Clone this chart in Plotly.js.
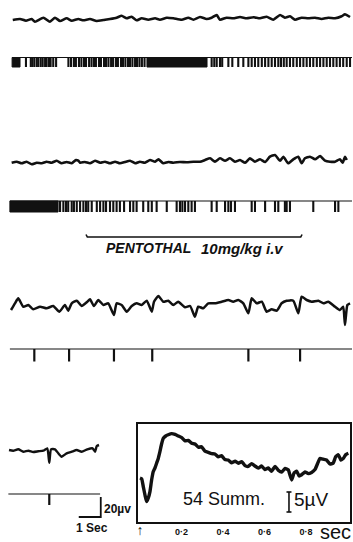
<!DOCTYPE html>
<html>
<head>
<meta charset="utf-8">
<script src="https://cdn.plot.ly/plotly-3.0.1.min.js"></script>
<style>html,body{margin:0;padding:0;background:#fff;}#chart{width:353px;height:542px;}</style>
</head>
<body>
<div id="chart"></div>
<script>
// ---------- DATA (time in s, potentials in µV) ----------
// Row 1: EEG before injection
const eeg1T = [0.58,0.91,1.18,1.44,1.59,1.97,2.27,2.50,2.73,3.03,3.26,3.56,3.79,4.09,4.39,4.70,5.00,5.30,5.53,5.76,5.98,6.21,6.44,6.74,7.05,7.27,7.58,7.88,8.26,8.56,8.79,9.09,9.39,9.62,9.85,10.00,10.30,10.60,10.91,11.21,11.52,11.82,12.12,12.42,12.73,12.95,13.18,13.41,13.71,14.01,14.32,14.62,14.92,15.23,15.53,15.68,15.91];
const eeg1V = [-2,-1,-2.7,-1,-3.7,0.3,-3.7,0.3,-3,-0.3,-2.7,-1,-2.3,-1,-3,-2,-1,0.3,2.3,-0.3,1.3,-2.3,-0.3,-1.7,-0.3,-1.7,0.3,-0.3,-1.7,0.3,-1.7,1,-1,0.3,3,-1.7,0.3,-0.3,1,-0.3,0.7,-0.3,1.3,-1.7,3,0.3,1.7,-1.7,0.3,-0.3,0.3,-1,0.3,-0.3,1.7,3.7,1];
// Row 2: unit discharges before injection
const spikes1 = [1.18,1.40,1.47,1.56,1.67,1.74,1.85,1.94,2.05,2.12,2.23,2.30,2.42,2.55,3.11,3.23,3.36,3.45,3.59,3.70,3.82,3.91,4.05,4.16,4.27,4.36,4.50,4.59,4.73,4.82,4.93,5.05,5.14,5.27,5.36,5.50,5.59,5.70,5.82,5.91,6.02,6.14,6.23,6.34,6.45,6.57,9.62,9.74,9.85,10.00,10.10,10.38,10.56,10.83,11.06,11.29,11.44,11.59,11.74,11.90,12.05,12.20,12.35,12.50,12.65,12.77,12.90,13.03,13.18,13.33,13.49,13.64,13.79,13.94,14.09,14.24,14.40,14.55,14.70,14.85,15.00,15.15,15.30,15.45,15.60,15.76,15.91];
const bursts1Start = [0.55, 6.68];
const bursts1End   = [0.91, 9.41];
// Row 3: EEG during injection
const eeg2T = [0.53,0.76,0.99,1.21,1.44,1.67,1.90,2.12,2.35,2.58,2.80,3.03,3.26,3.45,3.56,3.64,3.86,4.09,4.32,4.55,4.77,5.00,5.23,5.45,5.68,5.91,6.14,6.36,6.59,6.82,7.05,7.20,7.42,7.65,7.88,8.18,8.49,8.79,9.09,9.32,9.55,9.77,10.00,10.23,10.45,10.68,10.91,11.14,11.36,11.59,11.82,12.05,12.27,12.50,12.73,12.88,13.10,13.33,13.56,13.71,13.86,14.09,14.32,14.55,14.77,15.00,15.23,15.45,15.58,15.68,15.76];
const eeg2V = [-1.7,-0.7,-2.3,-0.7,-3.3,-1.7,-2.3,-0.7,-1.7,0.3,-2.3,-1,-2.3,1,0.3,-1.7,-1,-2.3,0.3,-1.7,-0.7,-2.3,-0.7,-2.3,-1,0.3,-2.3,-0.7,-1.7,1,-0.7,1.7,-2.3,-1,-1.7,-1,-1.3,-0.7,-0.7,1,2.7,-0.7,2.7,0.3,2.7,-0.7,1,-1.7,2.7,-0.7,1.7,-1,4.3,6,0.3,4.3,-2.3,1.7,4.3,-2.3,2.7,4.3,1.7,5,0.3,-0.7,-0.7,1.7,-1.7,4.3,1];
// Row 4: unit discharges during injection
const spikes2 = [2.73,2.88,3.00,3.10,3.26,3.36,3.49,3.64,3.79,3.91,4.01,4.17,4.40,4.55,4.70,4.82,5.00,5.15,5.30,5.45,5.64,5.91,6.06,6.21,6.51,6.74,6.90,7.12,7.58,8.03,8.18,8.29,8.41,8.56,8.71,8.86,9.62,9.85,10.23,10.38,10.50,10.68,11.44,11.59,12.05,12.50,12.65,12.95,13.03,13.18,14.24,15.23,15.38];
const bursts2Start = [0.45];
const bursts2End   = [2.64];
const pentothal = [3.91, 13.73];            // injection start / end (s)
// Row 5: EEG after injection
const eeg3T = [0.50,0.68,0.83,1.06,1.29,1.51,1.82,2.12,2.42,2.70,2.95,3.10,3.26,3.49,3.71,3.97,4.09,4.27,4.47,4.70,4.92,5.18,5.30,5.53,5.76,5.99,6.21,6.44,6.67,6.90,7.00,7.20,7.42,7.65,7.88,8.10,8.41,8.64,8.86,9.01,9.24,9.47,9.77,10.08,10.38,10.60,10.83,11.06,11.29,11.44,11.67,11.90,12.12,12.35,12.58,12.80,13.03,13.33,13.56,13.71,13.94,14.17,14.47,14.70,14.92,15.23,15.45,15.60,15.68,15.79,15.91];
const eeg3V = [-5,1.7,6.7,-1.7,0,-4.3,-1.7,-3.3,-1,-6.7,0,-5.7,1.7,4.3,-1,3.3,5.7,-1,5,0,1.7,-10,1.7,0,-6.7,-1,1.7,0,4.3,-6.7,3.3,9,3.3,4.3,0,3.3,-2.3,-1,-11.7,-1.7,-3.3,1.7,1.7,3.3,5,3.3,5,1.7,-8.3,6.7,1.7,3.3,-6.7,-4.3,-5.7,1.7,4.3,4.3,-8.3,8.3,5,3.3,4.3,1.7,3.3,-1.7,-5,-1.7,-20,0,1.7];
const spikes3 = [1.56, 3.14, 5.18, 6.92, 11.29, 13.64];
// Row 7: later EEG sample
const eeg4T = [0.41,0.60,0.83,1.06,1.29,1.51,1.74,1.97,2.15,2.24,2.32,2.50,2.65,2.80,3.03,3.26,3.49,3.71,3.97,4.21,4.32,4.40,4.50];
const eeg4V = [0,-0.7,0.7,-1.7,-0.7,-2,-1.3,-0.7,1.7,-12.7,0.7,0.7,-3.3,-6.7,-3.3,-1.7,0,-1.7,0.7,1.7,-1.7,4,5];
const spikes4 = [2.24];
// Inset: averaged response, 54 summations (s after stimulus, µV)
const avgT = [0,0.008,0.016,0.025,0.032,0.04,0.048,0.056,0.064,0.072,0.08,0.088,0.096,0.104,0.112,0.124,0.136,0.152,0.169,0.185,0.201,0.217,0.233,0.249,0.265,0.281,0.297,0.313,0.329,0.345,0.361,0.377,0.393,0.409,0.425,0.441,0.458,0.474,0.490,0.506,0.522,0.538,0.554,0.570,0.586,0.602,0.618,0.634,0.651,0.667,0.683,0.699,0.715,0.723,0.731,0.743,0.755,0.767,0.779,0.795,0.811,0.827,0.843,0.855,0.867,0.883,0.899,0.915,0.931,0.943,0.956,0.968,0.980,0.992,1.004];
const avgV = [0.5,0.3,-1.7,-4,-5.4,-4.5,-2.9,0,2.1,3.0,4.2,5.4,7.1,9.0,10.4,11.0,11.3,11.6,11.4,11.0,10.6,9.8,9.9,9.2,9.0,8.2,8.3,7.2,6.9,6.6,6.5,5.8,6.1,5.1,5.0,4.3,4.7,4.2,4.6,3.6,3.4,4.1,3.5,3.0,3.5,2.6,3.0,2.2,3.4,2.4,2.0,2.9,2.5,1.2,0,1.8,2.2,1.0,1.3,2.0,1.6,1.9,2.6,4.0,5.4,5.2,5.0,4.0,4.2,5.8,6.3,5.0,5.4,6.4,6.7];
const insetTickVals = [0, 0.2, 0.4, 0.6, 0.8];
const insetTickText = ['<span style="font-size:14px"><b>↑</b></span>', '<b>0·2</b>', '<b>0·4</b>', '<b>0·6</b>', '<b>0·8</b>'];
const scaleUV = 20, scaleSec = 1, insetScaleUV = 5;

// ---------- LAYOUT HELPERS ----------
const W = 353, H = 542, INK = '#111';
const PX_PER_SEC = 22;
function yax(top, bot, base, ppu, extra) {
  return Object.assign({domain: [1 - bot / H, 1 - top / H], range: [(base - bot) / ppu, (base - top) / ppu],
    visible: false, fixedrange: true, anchor: 'x'}, extra || {});
}
const traces = [];
function eeg(t, v, ya, w) {
  traces.push({x: t, y: v, xaxis: 'x', yaxis: ya, mode: 'lines', hoverinfo: 'skip',
    line: {color: INK, width: w || 2.6, shape: 'spline', smoothing: 0.5}});
}
function spikes(times, ya, t0, t1, lw) {
  const xs = [], ys = [];
  times.forEach(t => { xs.push(t, t, null); ys.push(0, -1, null); });
  traces.push({x: xs, y: ys, xaxis: 'x', yaxis: ya, mode: 'lines', hoverinfo: 'skip', line: {color: INK, width: lw || 2.1}});
  traces.push({x: [t0, t1], y: [0, 0], xaxis: 'x', yaxis: ya, mode: 'lines', hoverinfo: 'skip', line: {color: INK, width: 1.2}});
}
function bursts(starts, ends, ya) {
  starts.forEach((s, i) => {
    traces.push({x: [s, ends[i], ends[i], s, s], y: [0, 0, -1, -1, 0], xaxis: 'x', yaxis: ya, mode: 'lines',
      fill: 'toself', fillcolor: INK, hoverinfo: 'skip', line: {color: INK, width: 1}});
  });
}

eeg(eeg1T, eeg1V, 'y');
spikes(spikes1, 'y2', 0.55, 16.0);
bursts(bursts1Start, bursts1End, 'y2');
eeg(eeg2T, eeg2V, 'y3');
spikes(spikes2, 'y4', 0.45, 16.0);
bursts(bursts2Start, bursts2End, 'y4');
// pentothal bracket
traces.push({x: [pentothal[0], pentothal[0] + 0.06, pentothal[1] - 0.06, pentothal[1]], y: [2.5, 0, 0, 2.5],
  xaxis: 'x', yaxis: 'y5', mode: 'lines', hoverinfo: 'skip', line: {color: INK, width: 1.6}});
eeg(eeg3T, eeg3V, 'y6', 2.5);
spikes(spikes3, 'y7', 0.45, 16.0, 2.2);
eeg(eeg4T, eeg4V, 'y8', 2.4);
spikes(spikes4, 'y9', 0.38, 4.55, 2.2);
// calibration: 20 µV / 1 s
const calT = 4.58, calV = -67;
traces.push({x: [calT - scaleSec, calT, calT], y: [calV, calV, calV + scaleUV], xaxis: 'x', yaxis: 'y8',
  mode: 'lines', hoverinfo: 'skip', line: {color: INK, width: 1.8}});
// inset averaged response
traces.push({x: avgT, y: avgV, xaxis: 'x2', yaxis: 'y10', mode: 'lines', hoverinfo: 'skip',
  line: {color: INK, width: 3.4, shape: 'spline', smoothing: 0.4}});
const ct = 0.718, cv = -8;
traces.push({x: [ct - 0.012, ct + 0.012, null, ct, ct, null, ct - 0.012, ct + 0.012], y: [cv, cv, null, cv, cv + insetScaleUV, null, cv + insetScaleUV, cv + insetScaleUV],
  xaxis: 'x2', yaxis: 'y10', mode: 'lines', hoverinfo: 'skip', line: {color: INK, width: 1.6}});

const FONT = 'Liberation Sans, Arial, sans-serif';
const layout = {
  width: W, height: H, margin: {l: 0, r: 0, t: 0, b: 0, pad: 0},
  paper_bgcolor: '#fff', plot_bgcolor: 'rgba(0,0,0,0)', showlegend: false,
  font: {family: FONT, color: INK},
  xaxis: {domain: [0, 1], range: [0, W / PX_PER_SEC], visible: false, fixedrange: true, anchor: 'y'},
  yaxis:  yax(0, 40, 18, 1),
  yaxis2: yax(50, 75, 57.5, 9.5),
  yaxis3: yax(140, 185, 161, 1),
  yaxis4: yax(195, 220, 201, 11),
  yaxis5: yax(225, 245, 237, 1),
  yaxis6: yax(280, 335, 305, 1),
  yaxis7: yax(340, 370, 349, 12.5),
  yaxis8: yax(430, 525, 450, 1),
  yaxis9: yax(488, 512, 494, 11),
  xaxis2: {domain: [138 / W, 350 / W], range: [(138 - 140) / 207.5, (350 - 140) / 207.5], anchor: 'y10',
    showline: true, mirror: true, linecolor: INK, linewidth: 2, showgrid: false, zeroline: false,
    ticks: '', tickvals: insetTickVals, ticktext: insetTickText,
    tickfont: {family: FONT, size: 9, color: INK}, fixedrange: true},
  yaxis10: Object.assign(yax(424, 522, 480, 4), {visible: true, anchor: 'x2', showline: true, mirror: true,
    linecolor: INK, linewidth: 2, showgrid: false, zeroline: false, showticklabels: false, ticks: ''}),
  annotations: [
    {text: '<b><i>PENTOTHAL</i></b>', xref: 'paper', yref: 'paper', x: 104 / W, y: 1 - 248 / H, xanchor: 'left', yanchor: 'middle', showarrow: false, font: {family: FONT, size: 14, color: INK}},
    {text: '<b><i>10mg/kg i.v</i></b>', xref: 'paper', yref: 'paper', x: 199 / W, y: 1 - 248 / H, xanchor: 'left', yanchor: 'middle', showarrow: false, font: {family: FONT, size: 15, color: INK}},
    {text: '<b>20µv</b>', xref: 'paper', yref: 'paper', x: 102 / W, y: 1 - 509 / H, xanchor: 'left', yanchor: 'middle', showarrow: false, font: {family: FONT, size: 12, color: INK}},
    {text: '<b>1 Sec</b>', xref: 'paper', yref: 'paper', x: 92 / W, y: 1 - 528 / H, xanchor: 'center', yanchor: 'middle', showarrow: false, font: {family: FONT, size: 12, color: INK}},
    {text: '54 Summ.', xref: 'paper', yref: 'paper', x: 181 / W, y: 1 - 499 / H, xanchor: 'left', yanchor: 'middle', showarrow: false, font: {family: FONT, size: 18, color: INK}},
    {text: '5µV', xref: 'paper', yref: 'paper', x: 292 / W, y: 1 - 499 / H, xanchor: 'left', yanchor: 'middle', showarrow: false, font: {family: FONT, size: 19, color: INK}},
    {text: 'sec', xref: 'paper', yref: 'paper', x: 318 / W, y: 1 - 532 / H, xanchor: 'left', yanchor: 'middle', showarrow: false, font: {family: FONT, size: 20, color: INK}}
  ]
};
Plotly.newPlot('chart', traces, layout, {staticPlot: true, displayModeBar: false});
</script>
</body>
</html>
